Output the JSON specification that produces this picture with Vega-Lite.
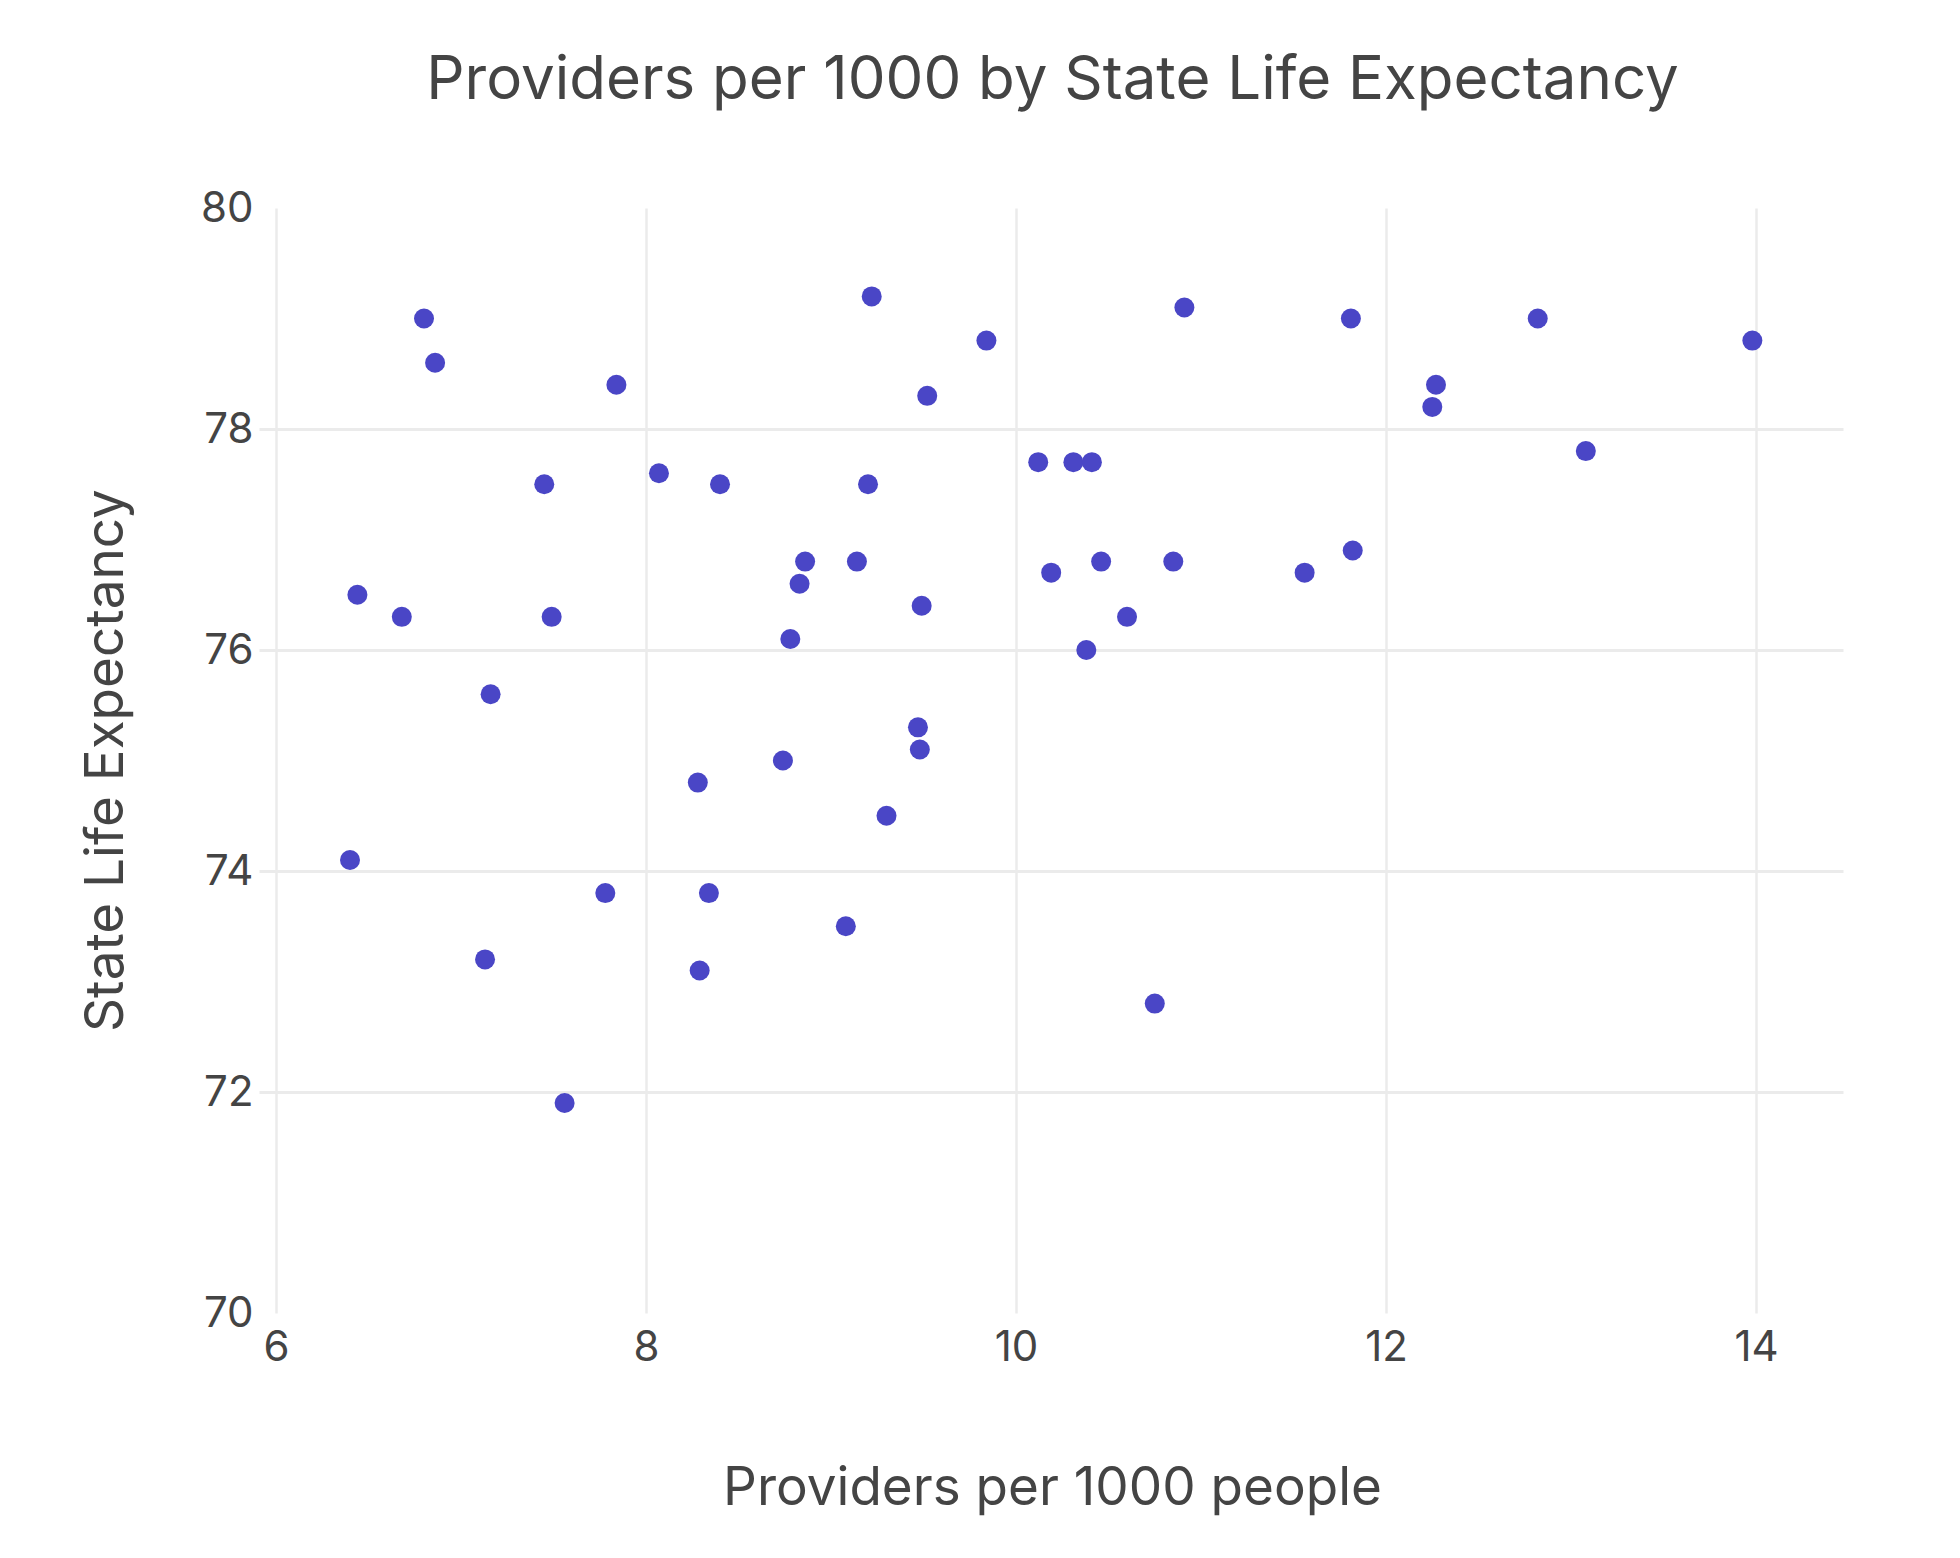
{
  "$schema": "https://vega.github.io/schema/vega-lite/v6.json",
  "width": 1567,
  "height": 1105,
  "autosize": {"type": "none"},
  "padding": {"left": 276, "top": 208, "right": 117, "bottom": 245},
  "background": "white",
  "title": {
    "text": "Providers per 1000 by State Life Expectancy",
    "anchor": "middle",
    "frame": "group",
    "font": "Inter",
    "fontSize": 60,
    "fontWeight": "normal",
    "color": "#444444",
    "offset": 75,
    "dx": -7
  },
  "data": {
    "values": [
      {"providers_per_1000": 6.80, "life_expectancy": 79.0},
      {"providers_per_1000": 6.86, "life_expectancy": 78.6},
      {"providers_per_1000": 7.84, "life_expectancy": 78.4},
      {"providers_per_1000": 7.45, "life_expectancy": 77.5},
      {"providers_per_1000": 8.07, "life_expectancy": 77.6},
      {"providers_per_1000": 8.40, "life_expectancy": 77.5},
      {"providers_per_1000": 8.86, "life_expectancy": 76.8},
      {"providers_per_1000": 8.83, "life_expectancy": 76.6},
      {"providers_per_1000": 6.44, "life_expectancy": 76.5},
      {"providers_per_1000": 6.68, "life_expectancy": 76.3},
      {"providers_per_1000": 7.49, "life_expectancy": 76.3},
      {"providers_per_1000": 8.78, "life_expectancy": 76.1},
      {"providers_per_1000": 7.16, "life_expectancy": 75.6},
      {"providers_per_1000": 9.22, "life_expectancy": 79.2},
      {"providers_per_1000": 9.84, "life_expectancy": 78.8},
      {"providers_per_1000": 9.52, "life_expectancy": 78.3},
      {"providers_per_1000": 9.20, "life_expectancy": 77.5},
      {"providers_per_1000": 9.14, "life_expectancy": 76.8},
      {"providers_per_1000": 9.49, "life_expectancy": 76.4},
      {"providers_per_1000": 10.91, "life_expectancy": 79.1},
      {"providers_per_1000": 10.12, "life_expectancy": 77.7},
      {"providers_per_1000": 10.31, "life_expectancy": 77.7},
      {"providers_per_1000": 10.41, "life_expectancy": 77.7},
      {"providers_per_1000": 10.19, "life_expectancy": 76.7},
      {"providers_per_1000": 10.46, "life_expectancy": 76.8},
      {"providers_per_1000": 10.85, "life_expectancy": 76.8},
      {"providers_per_1000": 11.56, "life_expectancy": 76.7},
      {"providers_per_1000": 10.60, "life_expectancy": 76.3},
      {"providers_per_1000": 10.38, "life_expectancy": 76.0},
      {"providers_per_1000": 11.81, "life_expectancy": 79.0},
      {"providers_per_1000": 12.82, "life_expectancy": 79.0},
      {"providers_per_1000": 13.98, "life_expectancy": 78.8},
      {"providers_per_1000": 12.27, "life_expectancy": 78.4},
      {"providers_per_1000": 12.25, "life_expectancy": 78.2},
      {"providers_per_1000": 13.08, "life_expectancy": 77.8},
      {"providers_per_1000": 11.82, "life_expectancy": 76.9},
      {"providers_per_1000": 8.28, "life_expectancy": 74.8},
      {"providers_per_1000": 8.74, "life_expectancy": 75.0},
      {"providers_per_1000": 6.40, "life_expectancy": 74.1},
      {"providers_per_1000": 7.78, "life_expectancy": 73.8},
      {"providers_per_1000": 8.34, "life_expectancy": 73.8},
      {"providers_per_1000": 7.13, "life_expectancy": 73.2},
      {"providers_per_1000": 8.29, "life_expectancy": 73.1},
      {"providers_per_1000": 7.56, "life_expectancy": 71.9},
      {"providers_per_1000": 9.47, "life_expectancy": 75.3},
      {"providers_per_1000": 9.48, "life_expectancy": 75.1},
      {"providers_per_1000": 9.30, "life_expectancy": 74.5},
      {"providers_per_1000": 9.08, "life_expectancy": 73.5},
      {"providers_per_1000": 10.75, "life_expectancy": 72.8}
    ]
  },
  "mark": {"type": "circle", "size": 400, "color": "#4a46c6", "opacity": 1},
  "encoding": {
    "x": {
      "field": "providers_per_1000",
      "type": "quantitative",
      "scale": {"domain": [6, 14.47], "nice": false, "zero": false},
      "axis": {
        "title": "Providers per 1000 people",
        "values": [6, 8, 10, 12, 14],
        "format": "d",
        "grid": true,
        "gridColor": "#ebebeb",
        "gridWidth": 2.5,
        "ticks": false,
        "domain": false,
        "labelFont": "Inter",
        "labelFontSize": 42,
        "labelColor": "#444444",
        "labelPadding": 14,
        "labelFlush": false,
        "titleFont": "Inter",
        "titleFontSize": 53,
        "titleFontWeight": "normal",
        "titleColor": "#444444",
        "titleBaseline": "alphabetic",
        "titleX": 776,
        "titleY": 191
      }
    },
    "y": {
      "field": "life_expectancy",
      "type": "quantitative",
      "scale": {"domain": [70, 80], "nice": false, "zero": false},
      "axis": {
        "title": "State Life Expectancy",
        "values": [70, 72, 74, 76, 78, 80],
        "format": "d",
        "grid": true,
        "gridColor": "#ebebeb",
        "gridWidth": 3,
        "gridOpacity": {"condition": {"test": "datum.value == 70 || datum.value == 80", "value": 0}, "value": 1},
        "ticks": true,
        "tickColor": "#ebebeb",
        "tickWidth": 3,
        "tickSize": 17,
        "tickOpacity": {"condition": {"test": "datum.value == 70 || datum.value == 80", "value": 0}, "value": 1},
        "domain": false,
        "labelFont": "Inter",
        "labelFontSize": 42,
        "labelColor": "#444444",
        "labelPadding": 6,
        "labelFlush": false,
        "titleFont": "Inter",
        "titleFontSize": 53,
        "titleFontWeight": "normal",
        "titleColor": "#444444",
        "titleAngle": -90,
        "titleBaseline": "middle",
        "titleX": -170,
        "titleY": 552
      }
    }
  },
  "config": {"view": {"stroke": null}}
}
